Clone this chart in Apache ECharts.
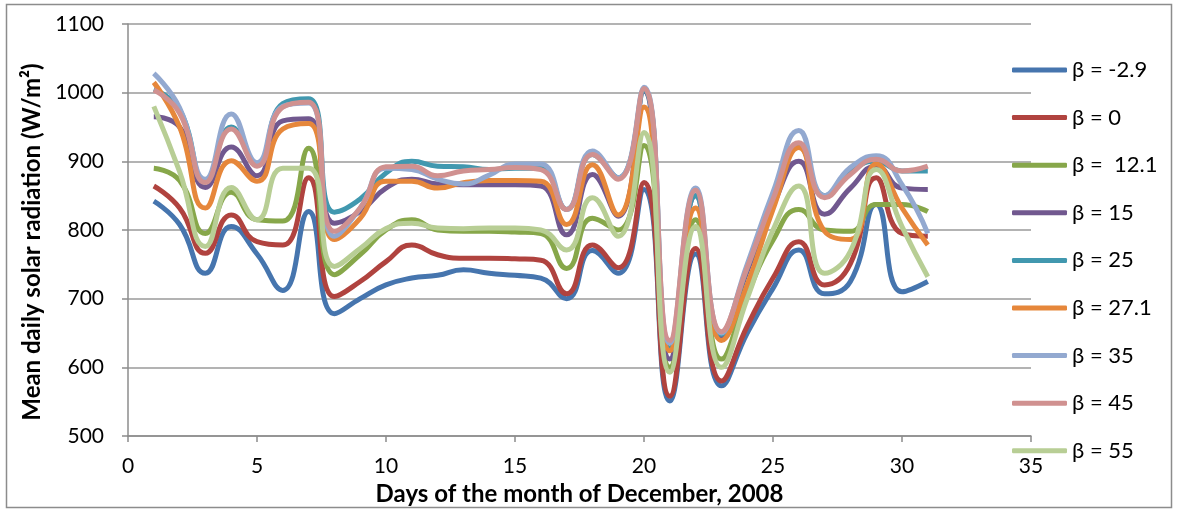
<!DOCTYPE html>
<html>
<head>
<meta charset="utf-8">
<script src="https://cdn.jsdelivr.net/npm/echarts@6/dist/echarts.min.js"></script>
<style>
  html, body { margin: 0; padding: 0; background: #fff; }
  #graph { width: 1177px; height: 512px; }
</style>
</head>
<body>
<div id="graph"></div>
<script>
// days of December 2008
const days = [1,2,3,4,5,6,7,8,9,10,11,12,13,14,15,16,17,18,19,20,21,22,23,24,25,26,27,28,29,30,31];

// one array per tilt angle (W/m2)
const betaM2_9 = [842,808,737,805,765,712,827,678,700,720,730,734,742,737,734,730,700,770,737,859,551,765,573,650,715,771,707,725,837,710,725];
const beta0    = [864,832,766,822,783,778,876,703,725,754,778,764,759,759,758,756,707,778,745,869,558,773,580,660,730,783,720,751,876,795,791];
const beta12_1 = [890,872,795,855,815,813,919,735,764,800,815,800,798,798,797,795,744,817,800,923,600,815,612,705,785,830,800,798,837,837,827];
const beta15   = [965,950,862,921,879,959,962,810,827,861,874,867,866,866,866,864,793,881,820,1002,612,850,645,740,835,900,823,861,893,861,859];
const beta25   = [1005,975,870,950,895,984,991,826,845,883,900,893,892,888,890,890,830,910,876,1004,628,850,648,745,845,922,850,885,900,886,886];
const beta27_1 = [1015,950,832,901,871,947,955,786,817,871,871,861,869,872,872,871,808,895,822,979,624,832,639,720,830,920,798,786,896,832,778];
const beta35   = [1028,978,874,969,898,980,985,791,832,890,888,874,867,880,896,896,830,915,876,1008,635,861,650,750,855,945,850,891,908,866,795];
const beta45   = [1004,970,869,947,893,979,986,798,832,892,893,879,886,888,891,888,830,910,874,1006,639,858,652,745,845,927,847,881,903,886,893];
const beta55   = [980,885,776,862,815,890,890,747,773,802,810,803,802,803,803,800,771,847,791,942,593,805,600,700,800,864,737,769,888,805,732];

const seriesNames = ['β = -2.9', 'β = 0', 'β =  12.1', 'β = 15', 'β = 25', 'β = 27.1', 'β = 35', 'β = 45', 'β = 55'];
const seriesData = [betaM2_9, beta0, beta12_1, beta15, beta25, beta27_1, beta35, beta45, beta55];
const colors = ['#4675AE', '#B0433F', '#87A74A', '#71588F', '#4198AF', '#E6873B', '#93A9D0', '#D09190', '#B8CE95'];

const FONT = 'Lato, "Open Sans", sans-serif';

var myChart = echarts.init(document.getElementById('graph'));

const series = seriesData.map((vals, i) => ({
  name: seriesNames[i],
  type: 'line',
  smooth: 0.5,
  symbol: 'none',
  data: days.map((d, j) => [d, vals[j]]),
  lineStyle: { width: 5, color: colors[i] },
  itemStyle: { color: colors[i] }
}));

const option = {
  animation: false,
  color: colors,
  grid: { left: 128, right: 146, top: 24, bottom: 76 },
  graphic: [{
    type: 'rect',
    shape: { x: 6.5, y: 4.5, width: 1165, height: 503 },
    style: { fill: 'none', stroke: '#8c8c8c', lineWidth: 1.5 },
    silent: true
  }],
  legend: {
    orient: 'vertical',
    left: 1012,
    top: 58,
    padding: 0,
    icon: 'roundRect',
    itemWidth: 55,
    itemHeight: 5,
    itemGap: 23.6,
    textStyle: { fontFamily: FONT, fontSize: 22, color: '#000', lineHeight: 24 },
    data: seriesNames
  },
  xAxis: {
    type: 'value',
    min: 0,
    max: 35,
    interval: 5,
    name: 'Days of the month of December, 2008',
    nameLocation: 'middle',
    nameGap: 45,
    nameTextStyle: { fontFamily: FONT, fontSize: 24, fontWeight: 'bold', color: '#000' },
    axisLine: { show: true, lineStyle: { color: '#8c8c8c', width: 1.5 } },
    axisTick: { show: true, length: 6, lineStyle: { color: '#8c8c8c', width: 1.5 } },
    axisLabel: { fontFamily: FONT, fontSize: 21, color: '#000', margin: 20 },
    splitLine: { show: false }
  },
  yAxis: {
    type: 'value',
    min: 500,
    max: 1100,
    interval: 100,
    name: 'Mean daily solar radiation (W/m²)',
    nameLocation: 'middle',
    nameGap: 84,
    nameTextStyle: { fontFamily: FONT, fontSize: 24, fontWeight: 'bold', color: '#000', padding: [0, 24, 0, 0] },
    axisLine: { show: true, lineStyle: { color: '#8c8c8c', width: 1.5 } },
    axisTick: { show: true, length: 6, lineStyle: { color: '#8c8c8c', width: 1.5 } },
    axisLabel: { fontFamily: FONT, fontSize: 21, color: '#000', margin: 24, formatter: (v) => String(v) },
    splitLine: { show: true, lineStyle: { color: '#9a9a9a', width: 1.5 } }
  },
  series: series
};

myChart.setOption(option);
</script>
</body>
</html>
